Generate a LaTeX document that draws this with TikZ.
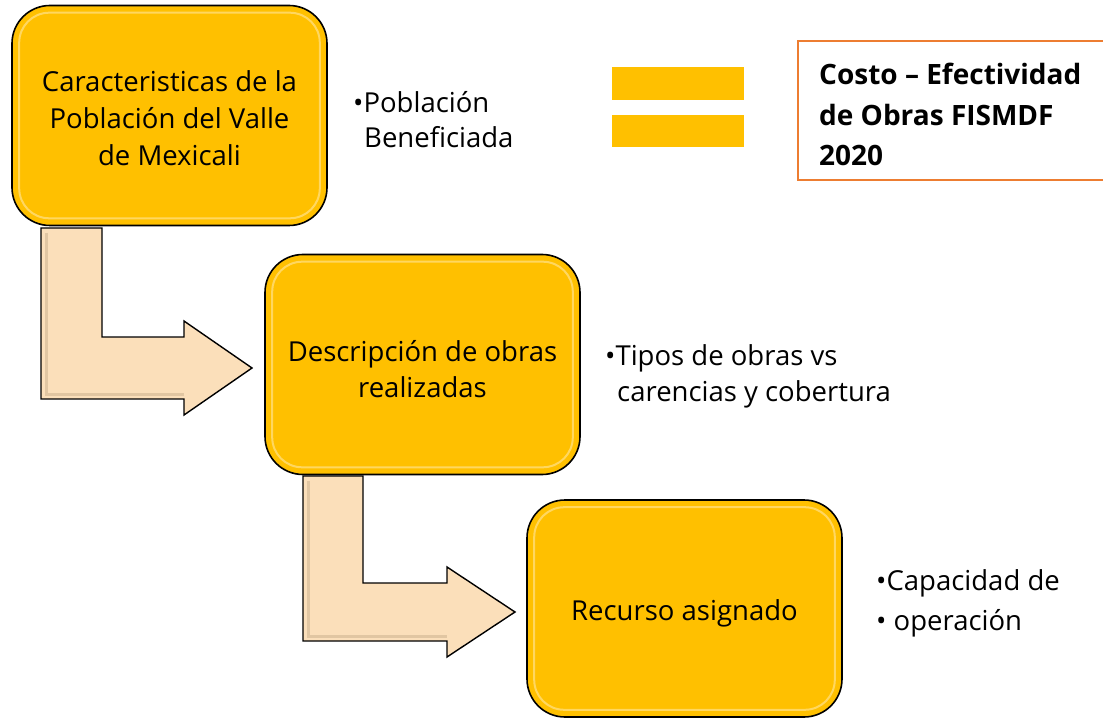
\documentclass[tikz,border=0pt]{standalone}
\usepackage{fontspec}
\setmainfont{Open Sans}
\definecolor{boxyellow}{HTML}{FFC000}
\definecolor{glow}{HTML}{FFE28A}
\definecolor{arrowfill}{HTML}{FBDFBA}
\definecolor{arrowedge}{HTML}{C8AE8C}
\definecolor{orangeedge}{HTML}{ED7D31}
\begin{document}
\begin{tikzpicture}[x=1pt,y=-1pt,
  yellowbox/.style={draw=black, line width=1.6pt, fill=boxyellow, rounded corners=38pt,
    minimum width=315pt, minimum height=220pt, align=center, inner sep=0pt},
  bentarrow/.style={draw=black, line width=1.4pt, fill=arrowfill, line join=miter},
  bevel/.style={arrowedge, line width=3pt, opacity=0.5},
  bulletline/.style={anchor=base west, inner sep=0pt, font=\fontsize{27.5}{36}\selectfont},
  boldline/.style={anchor=base west, inner sep=0pt, font=\bfseries\fontsize{28}{41}\selectfont},
  eqbar/.style={fill=boxyellow, draw=none}]
\useasboundingbox (0,0) rectangle (1103,719);
% bent arrows
\draw[bentarrow] (41,228) -- (102,228) -- (102,337) -- (184,337) -- (184,321) -- (252,368) -- (184,415) -- (184,399) -- (41,399) -- cycle;
\draw[bevel] (46,233) -- (46,394) -- (184,394);
\draw[bentarrow] (303,476) -- (363,476) -- (363,583) -- (447,583) -- (447,567) -- (515,612) -- (447,657) -- (447,641) -- (303,641) -- cycle;
\draw[bevel] (308,481) -- (308,636) -- (447,636);
% boxes
\node[yellowbox, font=\fontsize{27.5}{37}\selectfont] (b1) at (169.5,115.5)
  {\rule{0pt}{26pt}Caracteristicas de la\\Población del Valle\\de Mexicali};
\node[yellowbox, font=\fontsize{27.5}{36}\selectfont] (b2) at (422.5,364.5)
  {\rule{0pt}{31pt}Descripción de obras\\realizadas};
\node[yellowbox, minimum height=217pt, text height=28pt, text depth=5pt, font=\fontsize{27.5}{36}\selectfont] (b3) at (684.5,608.5)
  {Recurso asignado};
\foreach \b in {b1,b2,b3}{
  \draw[glow, line width=2pt, opacity=0.7, rounded corners=30pt]
    ([xshift=8pt,yshift=-8pt]\b.north west) rectangle ([xshift=-8pt,yshift=8pt]\b.south east);
}
% bullet texts
\node[bulletline] (t1a) at (353,113) {•Población};
\node[bulletline] (t1b) at (364,148) {Beneficiada};
\node[bulletline] (t2a) at (605,365) {•Tipos de obras vs};
\node[bulletline] (t2b) at (617,401) {carencias y cobertura};
\node[bulletline] (t3a) at (876,590) {•Capacidad de};
\node[bulletline] (t3b) at (876,630) {• operación};
% equals sign
\fill[eqbar] (612,67) rectangle (744,100);
\fill[eqbar] (612,115) rectangle (744,147);
% result box
\begin{scope}
\clip (0,0) rectangle (1103,719);
\draw[orangeedge, line width=1.8pt] (798,41) rectangle (1110,180);
\end{scope}
\node[boldline] (r1) at (819,85) {Costo – Efectividad};
\node[boldline] (r2) at (819,126) {de Obras FISMDF};
\node[boldline] (r3) at (819,166) {2020};
\end{tikzpicture}
\end{document}
